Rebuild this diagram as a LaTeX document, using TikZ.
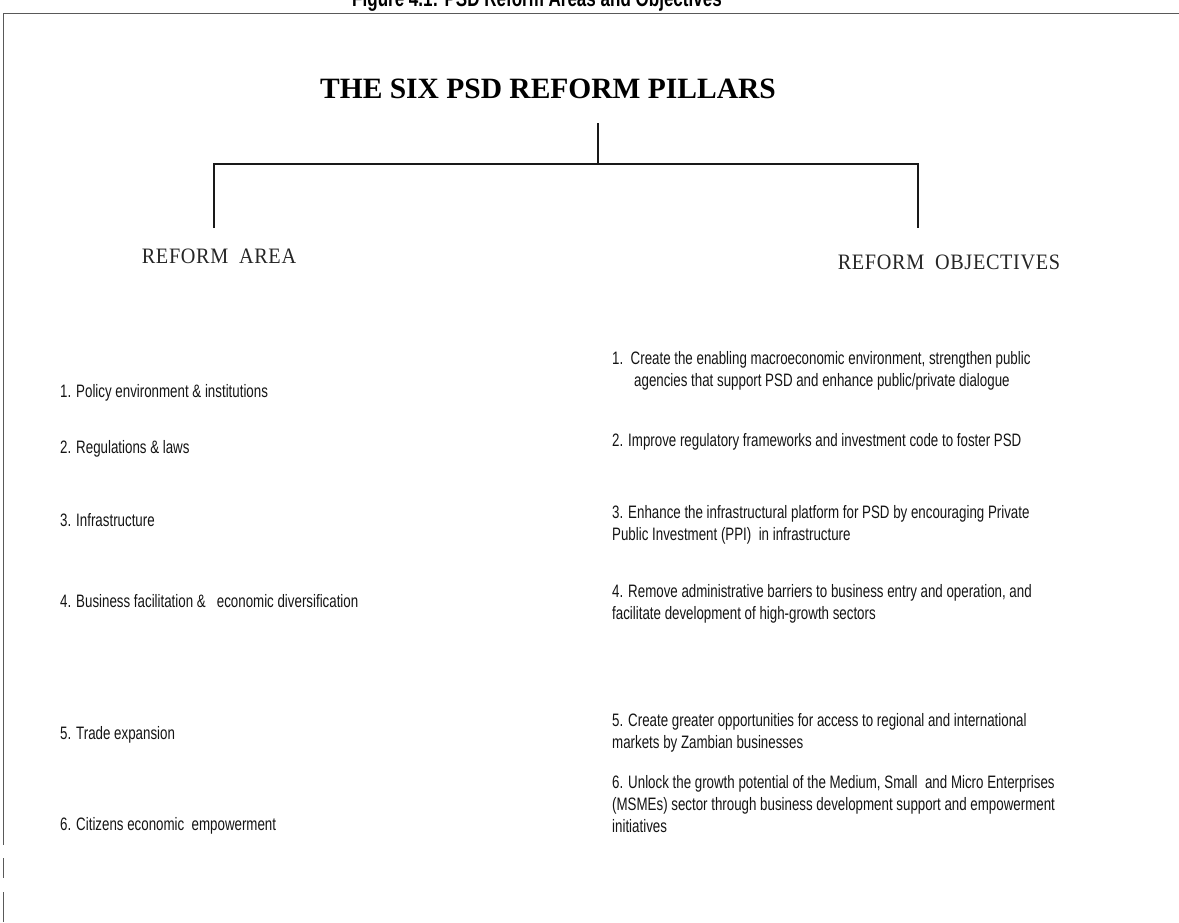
\documentclass[tikz,border=0pt]{standalone}
\usepackage{fontspec}
\setmainfont{Liberation Serif}
\newfontfamily\nar{Liberation Sans}[FakeStretch=0.74]
\newfontfamily\headfont{Liberation Serif}[FakeStretch=0.92,LetterSpace=3]
\begin{document}
\begin{tikzpicture}[x=1pt,y=-1pt,
  conn/.style={line width=1.4pt, black!90},
  framel/.style={line width=1pt, black!65},
  item/.style={anchor=north west, inner sep=0pt, text=black!92,
    font=\nar\fontsize{18}{22}\selectfont, align=left},
  head/.style={anchor=base, inner sep=0pt, text=black!85,
    font=\headfont\fontsize{22}{24}\selectfont}]
\useasboundingbox (0,0) rectangle (1179,922);
\clip (0,0) rectangle (1179,922);
% caption (cut by the top edge)
\node[anchor=base, inner sep=0pt, font=\nar\bfseries\fontsize{23}{24}\selectfont] (fig) at (537,6) {Figure 4.1: PSD Reform Areas and Objectives};
% frame
\draw[framel] (1179,13) -- (3,13) -- (3,845);
\draw[framel] (3,858) -- (3,878);
\draw[framel] (3,892) -- (3,922);
% title
\node[anchor=base, inner sep=0pt, font=\bfseries\fontsize{29.5}{30}\selectfont] (title) at (548,98) {THE SIX PSD REFORM PILLARS};
% tree connectors
\coordinate (top) at (598,123);
\coordinate (mid) at (598,164);
\coordinate (L) at (214,164);
\coordinate (R) at (918,164);
\coordinate (Lb) at (214,228);
\coordinate (Rb) at (918,228);
\draw[conn] (top) -- (mid);
\draw[conn] (Lb) -- (L) -- (R) -- (Rb);
% headings
\node[head] (area) at (219,263) {REFORM\hspace{5pt} AREA};
\node[head] (obj) at (949,269) {REFORM\hspace{5pt} OBJECTIVES};
% reform areas
\node[item] (a1) at (60,384) {1. Policy environment \& institutions};
\node[item] (a2) at (60,440) {2. Regulations \& laws};
\node[item] (a3) at (60,513) {3. Infrastructure};
\node[item] (a4) at (60,594) {4. Business facilitation \&\ \ \ economic diversification};
\node[item] (a5) at (60,726) {5. Trade expansion};
\node[item] (a6) at (60,817) {6. Citizens economic\ \ empowerment};
% reform objectives
\node[item] (o1) at (612,351) {1.\ \ Create the enabling macroeconomic environment, strengthen public\\\hspace*{22pt}agencies that support PSD and enhance public/private dialogue};
\node[item] (o2) at (612,433) {2. Improve regulatory frameworks and investment code to foster PSD};
\node[item] (o3) at (612,505) {3. Enhance the infrastructural platform for PSD by encouraging Private\\Public Investment (PPI)\ \ in infrastructure};
\node[item] (o4) at (612,584) {4. Remove administrative barriers to business entry and operation, and\\facilitate development of high-growth sectors};
\node[item] (o5) at (612,713) {5. Create greater opportunities for access to regional and international\\markets by Zambian businesses};
\node[item] (o6) at (612,775) {6. Unlock the growth potential of the Medium, Small\ \ and Micro Enterprises\\(MSMEs) sector through business development support and empowerment\\initiatives};
\end{tikzpicture}
\end{document}
